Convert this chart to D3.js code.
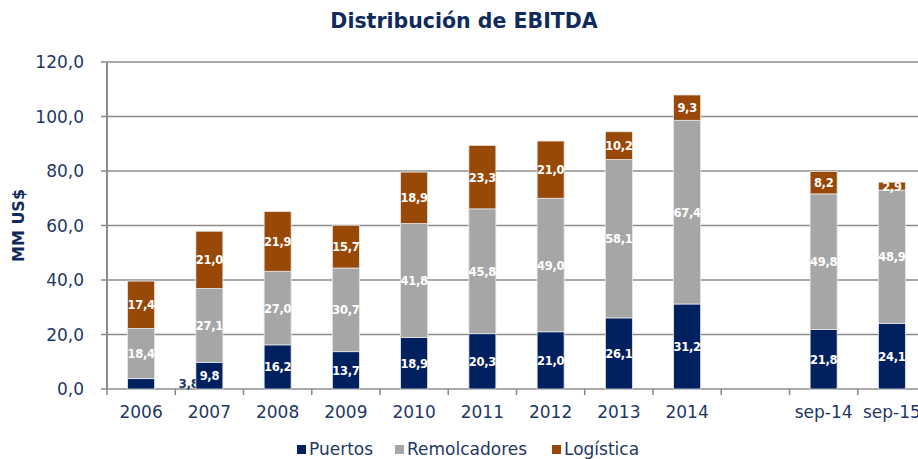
<!DOCTYPE html>
<html lang="es">
<head>
<meta charset="utf-8">
<title>Distribución de EBITDA</title>
<script src="https://cdn.jsdelivr.net/npm/d3@7"></script>
<style>
  body { margin: 0; background: #fff; }
  text { font-family: "DejaVu Sans", Verdana, sans-serif; }
</style>
</head>
<body>
<div id="chart"></div>
<script>
// data
var categories = ["2006", "2007", "2008", "2009", "2010", "2011", "2012", "2013", "2014", "", "sep-14", "sep-15"];
var puertos      = [3.8, 9.8, 16.2, 13.7, 18.9, 20.3, 21.0, 26.1, 31.2, null, 21.8, 24.1];
var remolcadores = [18.4, 27.1, 27.0, 30.7, 41.8, 45.8, 49.0, 58.1, 67.4, null, 49.8, 48.9];
var logistica    = [17.4, 21.0, 21.9, 15.7, 18.9, 23.3, 21.0, 10.2, 9.3, null, 8.2, 2.9];
var seriesNames  = ["Puertos", "Remolcadores", "Logística"];
var yTicks = [0, 20, 40, 60, 80, 100, 120];

var W = 918, H = 459;
var margin = {left: 107, top: 62, bottom: 70};
var navy = "#1f3864";
var colors = ["#002060", "#a6a6a6", "#984807"];
var fmt = v => d3.format(".1f")(v).replace(".", ",");

var svg = d3.select("#chart").append("svg")
    .attr("width", W).attr("height", H);

var x = d3.scaleBand().domain(d3.range(categories.length))
    .range([margin.left, margin.left + categories.length * 68.25]);
var y = d3.scaleLinear().domain([0, 120]).range([H - margin.bottom, margin.top]);
var barW = 27;

// title
svg.append("text")
    .attr("x", 464).attr("y", 28)
    .attr("text-anchor", "middle")
    .style("font-size", "20.5px").style("font-weight", "bold")
    .attr("fill", "#0f2b5e")
    .text("Distribución de EBITDA");

// gridlines
svg.append("g").selectAll("line").data(yTicks).enter().append("line")
    .attr("x1", margin.left - 6).attr("x2", W)
    .attr("y1", d => y(d)).attr("y2", d => y(d))
    .attr("stroke", "#8c8c8c").attr("stroke-width", 1.6);

// y axis labels
svg.append("g").selectAll("text").data(yTicks).enter().append("text")
    .attr("x", 84).attr("y", d => y(d) + 6)
    .attr("text-anchor", "end")
    .style("font-size", "17px")
    .attr("fill", navy)
    .text(fmt);

svg.append("text")
    .attr("transform", "translate(24," + y(60) + ") rotate(-90)")
    .attr("text-anchor", "middle")
    .style("font-size", "16px").style("font-weight", "bold")
    .attr("fill", "#0f2b5e")
    .text("MM US$");

// stacked data
var rows = categories.map(function(c, i) {
  return {i: i, Puertos: puertos[i], Remolcadores: remolcadores[i], "Logística": logistica[i]};
});
var stack = d3.stack().keys(seriesNames).value((d, k) => d[k] || 0)(rows);

// moved label for 2006 Puertos (sits left of the 2007 bar)
svg.append("text")
    .attr("x", x(1) + x.bandwidth() / 2 - barW / 2 + 3)
    .attr("y", y(puertos[0] / 2) + 4)
    .attr("text-anchor", "end")
    .style("font-size", "12px").style("font-weight", "bold")
    .style("letter-spacing", "-0.3px")
    .attr("fill", navy)
    .text(fmt(puertos[0]));

var layers = svg.append("g").selectAll("g").data(stack).enter().append("g")
    .attr("fill", (d, k) => colors[k]);

layers.selectAll("rect").data(d => d.filter(p => p.data[d.key] != null)).enter().append("rect")
    .attr("x", d => x(d.data.i) + x.bandwidth() / 2 - barW / 2)
    .attr("width", barW)
    .attr("y", d => y(d[1]))
    .attr("height", d => y(d[0]) - y(d[1]))
    .attr("stroke", "#e6e6e6").attr("stroke-width", 0.8);

// data labels
stack.forEach(function(layer) {
  svg.append("g").selectAll("text")
    .data(layer.filter(p => p.data[layer.key] != null && !(layer.key == "Puertos" && p.data.i == 0)))
    .enter().append("text")
    .attr("x", d => x(d.data.i) + x.bandwidth() / 2)
    .attr("y", d => (y(d[0]) + y(d[1])) / 2 + 4.5)
    .attr("text-anchor", "middle")
    .style("font-size", "11.5px").style("font-weight", "bold")
    .style("letter-spacing", "-0.3px")
    .attr("fill", "#fff")
    .text(d => fmt(d.data[layer.key]));
});

// left axis line and ticks
svg.append("line")
    .attr("x1", margin.left).attr("x2", margin.left)
    .attr("y1", y(120)).attr("y2", y(0))
    .attr("stroke", "#8c8c8c").attr("stroke-width", 2);

var xAxis = svg.append("g");
xAxis.selectAll("line").data(d3.range(categories.length + 1)).enter().append("line")
    .attr("x1", d => margin.left + d * x.step()).attr("x2", d => margin.left + d * x.step())
    .attr("y1", y(0)).attr("y2", y(0) + 6)
    .attr("stroke", "#8c8c8c").attr("stroke-width", 1.6);
xAxis.selectAll("text").data(categories).enter().append("text")
    .attr("x", (d, i) => x(i) + x.bandwidth() / 2)
    .attr("y", 418)
    .attr("text-anchor", "middle")
    .style("font-size", "17px")
    .attr("fill", navy)
    .text(d => d);

// legend
var legendX = [297, 395, 552];
var legend = svg.append("g").selectAll("g").data(seriesNames).enter().append("g")
    .attr("transform", (d, i) => "translate(" + legendX[i] + ",455)");
legend.append("rect")
    .attr("x", 0).attr("y", -10).attr("width", 9).attr("height", 9)
    .attr("fill", (d, i) => colors[i]);
legend.append("text")
    .attr("x", 12).attr("y", 0)
    .style("font-size", "17px")
    .attr("fill", navy)
    .text(d => d);
</script>
</body>
</html>
